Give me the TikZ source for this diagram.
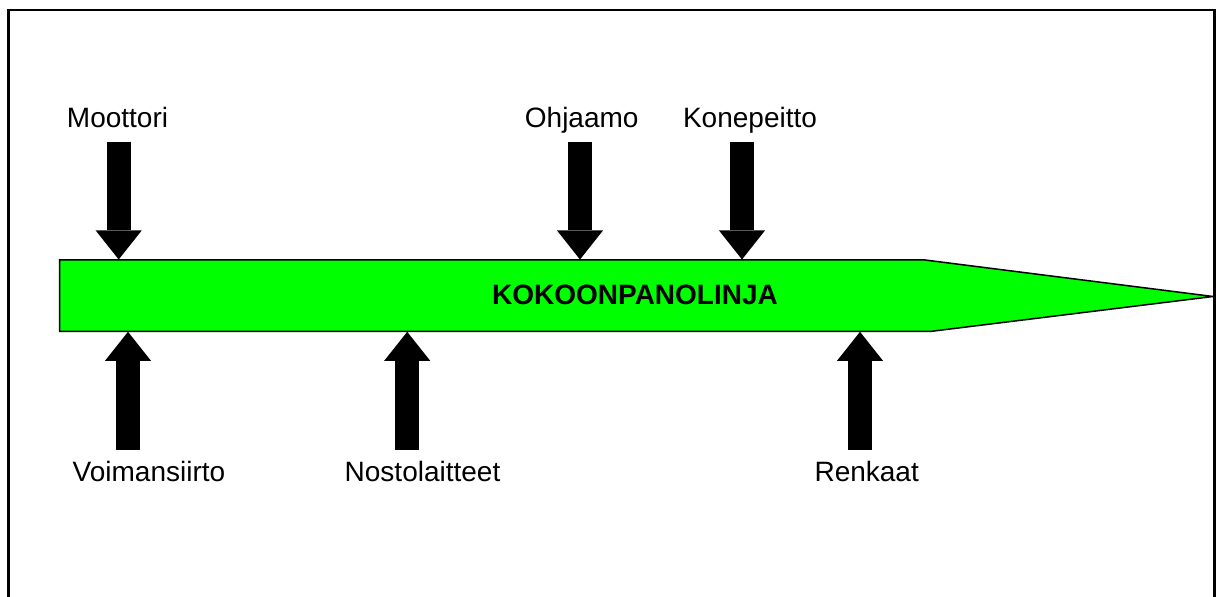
\documentclass[tikz,border=0pt]{standalone}
\usepackage{fontspec}
\setmainfont{Liberation Sans}
\usetikzlibrary{arrows.meta}
\definecolor{linegreen}{RGB}{0,255,0}
\begin{document}
\begin{tikzpicture}[x=0.5pt,y=-0.5pt,
  lbl/.style={anchor=base,inner sep=0pt,font=\fontsize{14}{16.8}\selectfont},
  title/.style={anchor=base,inner sep=0pt,font=\fontsize{14}{16.8}\selectfont\bfseries},
  feed/.style={line width=12pt,black,
    -{Triangle[width=23pt,length=14.5pt,line width=0pt]}},
  frame/.style={line width=1.4pt},
  body/.style={draw=black,line width=0.75pt,fill=linegreen,line join=miter}]
\useasboundingbox (0,0) rectangle (1216,597);
% outer frame, open at the bottom edge of the page
\begin{scope}
  \clip (0,0) rectangle (1216,597);
  \draw[frame] (8.7,10) rectangle (1214.8,640);
\end{scope}
% assembly line body with pointed end
\draw[body] (59.5,260) -- (925,260) -- (1213,296.5) -- (930,331.5)
  -- (59.5,331.5) -- cycle;
\node[title] (line) at (635,305) {KOKOONPANOLINJA};
% labels
\node[lbl] (moottori) at (117.5,127.3) {Moottori};
\node[lbl] (ohjaamo) at (581.7,127.3) {Ohjaamo};
\node[lbl] (konepeitto) at (750,127.3) {Konepeitto};
\node[lbl] (voimansiirto) at (149,481.7) {Voimansiirto};
\node[lbl] (nostolaitteet) at (422.5,481.7) {Nostolaitteet};
\node[lbl] (renkaat) at (866.7,481.7) {Renkaat};
% arrow start and end points
\coordinate (m0) at (118.7,141.7); \coordinate (m1) at (118.7,259.5);
\coordinate (o0) at (580,141.7);   \coordinate (o1) at (580,259.5);
\coordinate (k0) at (742,141.7);   \coordinate (k1) at (742,259.5);
\coordinate (v0) at (128,450);     \coordinate (v1) at (128,331.8);
\coordinate (n0) at (407.2,450);   \coordinate (n1) at (407.2,331.8);
\coordinate (r0) at (860,450);     \coordinate (r1) at (860,331.8);
% feed arrows
\draw[feed] (m0) -- (m1);
\draw[feed] (o0) -- (o1);
\draw[feed] (k0) -- (k1);
\draw[feed] (v0) -- (v1);
\draw[feed] (n0) -- (n1);
\draw[feed] (r0) -- (r1);
\end{tikzpicture}
\end{document}
